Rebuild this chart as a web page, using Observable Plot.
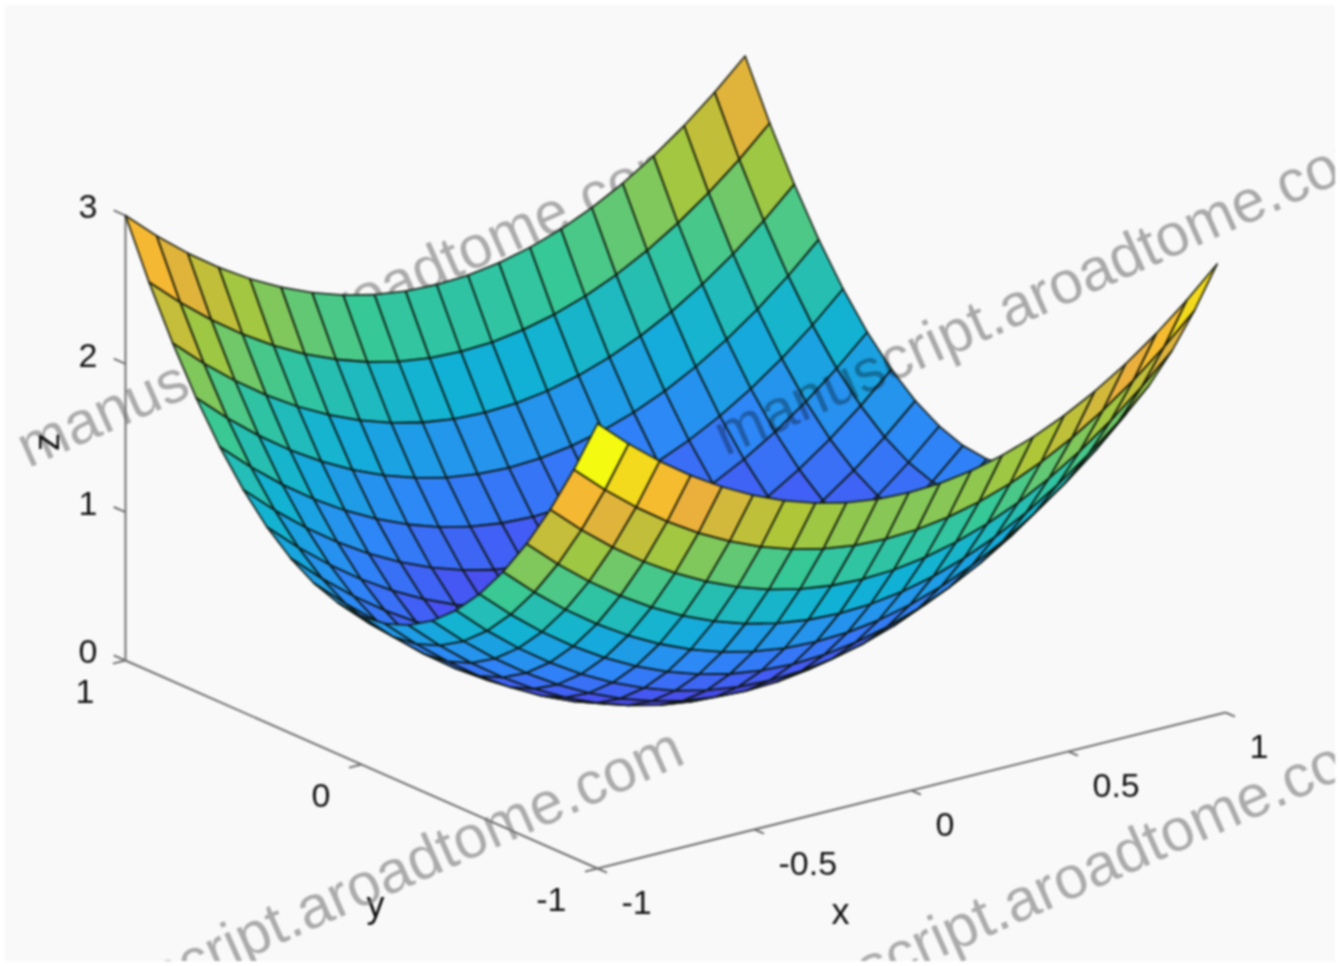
<!DOCTYPE html>
<html>
<head>
<meta charset="utf-8">
<script src="https://cdn.jsdelivr.net/npm/d3@7"></script>
<script src="https://cdn.jsdelivr.net/npm/@observablehq/plot@0.6"></script>
<style>html,body{margin:0;padding:0;background:#fff}svg{display:block}</style>
</head>
<body>
<div id="chart"></div>
<script>
// grid positions
const xGrid = [-1,-0.9,-0.8,-0.7,-0.6,-0.5,-0.4,-0.3,-0.2,-0.1,0,0.1,0.2,0.3,0.4,0.5,0.6,0.7,0.8,0.9,1];
const yGrid = [-1,-0.9,-0.8,-0.7,-0.6,-0.5,-0.4,-0.3,-0.2,-0.1,0,0.1,0.2,0.3,0.4,0.5,0.6,0.7,0.8,0.9,1];

// surface heights, one row per y magnitude
const zY10 = [3,2.81,2.64,2.49,2.36,2.25,2.16,2.09,2.04,2.01,2,2.01,2.04,2.09,2.16,2.25,2.36,2.49,2.64,2.81,3];
const zY09 = [2.62,2.43,2.26,2.11,1.98,1.87,1.78,1.71,1.66,1.63,1.62,1.63,1.66,1.71,1.78,1.87,1.98,2.11,2.26,2.43,2.62];
const zY08 = [2.28,2.09,1.92,1.77,1.64,1.53,1.44,1.37,1.32,1.29,1.28,1.29,1.32,1.37,1.44,1.53,1.64,1.77,1.92,2.09,2.28];
const zY07 = [1.98,1.79,1.62,1.47,1.34,1.23,1.14,1.07,1.02,0.99,0.98,0.99,1.02,1.07,1.14,1.23,1.34,1.47,1.62,1.79,1.98];
const zY06 = [1.72,1.53,1.36,1.21,1.08,0.97,0.88,0.81,0.76,0.73,0.72,0.73,0.76,0.81,0.88,0.97,1.08,1.21,1.36,1.53,1.72];
const zY05 = [1.5,1.31,1.14,0.99,0.86,0.75,0.66,0.59,0.54,0.51,0.5,0.51,0.54,0.59,0.66,0.75,0.86,0.99,1.14,1.31,1.5];
const zY04 = [1.32,1.13,0.96,0.81,0.68,0.57,0.48,0.41,0.36,0.33,0.32,0.33,0.36,0.41,0.48,0.57,0.68,0.81,0.96,1.13,1.32];
const zY03 = [1.18,0.99,0.82,0.67,0.54,0.43,0.34,0.27,0.22,0.19,0.18,0.19,0.22,0.27,0.34,0.43,0.54,0.67,0.82,0.99,1.18];
const zY02 = [1.08,0.89,0.72,0.57,0.44,0.33,0.24,0.17,0.12,0.09,0.08,0.09,0.12,0.17,0.24,0.33,0.44,0.57,0.72,0.89,1.08];
const zY01 = [1.02,0.83,0.66,0.51,0.38,0.27,0.18,0.11,0.06,0.03,0.02,0.03,0.06,0.11,0.18,0.27,0.38,0.51,0.66,0.83,1.02];
const zY00 = [1,0.81,0.64,0.49,0.36,0.25,0.16,0.09,0.04,0.01,0,0.01,0.04,0.09,0.16,0.25,0.36,0.49,0.64,0.81,1];
const zRows = [zY10,zY09,zY08,zY07,zY06,zY05,zY04,zY03,zY02,zY01,zY00,zY01,zY02,zY03,zY04,zY05,zY06,zY07,zY08,zY09,zY10];

// tick values
const xTicks = [-1,-0.5,0,0.5,1];
const yTicks = [-1,0,1];
const zTicks = [0,1,2,3];

// colour map
const parulaDomain = [0,0.43,0.86,1.29,1.71,2.14,2.55,2.78,3];
const parulaRange = ["#3e26a8","#4852f4","#2d87f7","#11b1d6","#37c897","#abc739","#f6ac3c","#f3d51e","#f4fb10"];

const watermark = "manuscript.aroadtome.com";

// view of the (x, y, z) box, with a slight perspective pull at the far x side
const viewU = (x, y, z) => 314 * x - 236 * y - 1.4 * (x + 1) * z;
const viewV = (x, y, z) => 78 * x + 104 * y + 148.3 * z + 0.6 * (x + 1) * z;

// back-to-front quads; every facet takes the colour of its lowest-index vertex
const facets = [];
for (let j = yGrid.length - 2; j >= 0; --j) {
  for (let i = xGrid.length - 2; i >= 0; --i) {
    const colour = zRows[j][i];
    for (const [a, b] of [[i, j], [i + 1, j], [i + 1, j + 1], [i, j + 1]]) {
      facets.push({
        cell: `${i}-${j}`,
        colour,
        u: viewU(xGrid[a], yGrid[b], zRows[b][a]),
        v: viewV(xGrid[a], yGrid[b], zRows[b][a])
      });
    }
  }
}

const tick = (x1, y1, z1, x2, y2, z2) => ({
  u1: viewU(x1, y1, z1), v1: viewV(x1, y1, z1),
  u2: viewU(x2, y2, z2), v2: viewV(x2, y2, z2)
});
const axisLines = [tick(-1, -1, 0, 1, -1, 0), tick(-1, -1, 0, -1, 1, 0), tick(-1, 1, 0, -1, 1, 3)];
const tickLines = [
  ...xTicks.map(t => tick(t, -1, 0, t, -1.04, 0)),
  ...yTicks.map(t => tick(-1, t, 0, -1.04, t, 0)),
  ...zTicks.map(t => tick(-1, 1, t, -1, 1.05, t))
];

const font = {fontFamily: "'Liberation Sans', Arial, sans-serif", fill: "#111"};
const wm = (dx, dy, extra) => Plot.text([watermark], {
  frameAnchor: "top-left", dx, dy, rotate: -24, textAnchor: "end", lineAnchor: "bottom",
  fontFamily: "'Liberation Sans', Arial, sans-serif", fontSize: 60, fill: "#777", fillOpacity: 0.6,
  ...extra
});

const chart = Plot.plot({
  width: 1340,
  height: 966,
  margin: 0,
  x: {domain: [-675, 665], range: [0, 1340], axis: null},
  y: {domain: [686, -280], range: [0, 966], axis: null},
  color: {type: "linear", domain: parulaDomain, range: parulaRange},
  style: {background: "#f9f9f9", outline: "5px solid #fff", outlineOffset: "-5px", filter: "blur(1.1px)"},
  marks: [
    wm(692, 172),
    Plot.link(axisLines, {x1: "u1", y1: "v1", x2: "u2", y2: "v2", stroke: "#707070", strokeWidth: 2}),
    Plot.link(tickLines, {x1: "u1", y1: "v1", x2: "u2", y2: "v2", stroke: "#707070", strokeWidth: 2}),
    Plot.line(facets, {x: "u", y: "v", z: "cell", fill: "colour", stroke: "#0c1208", strokeWidth: 1.8, strokeOpacity: 0.85, curve: "linear-closed"}),
    Plot.text(xTicks, {x: t => viewU(t, -1, 0), y: t => viewV(t, -1, 0), text: t => String(t), dx: 24, dy: 35, textAnchor: "start", fontSize: 34, ...font}),
    Plot.text(yTicks, {x: t => viewU(-1, t, 0), y: t => viewV(-1, t, 0), text: t => String(t), dx: -31, dy: 32, textAnchor: "end", fontSize: 34, ...font}),
    Plot.text(zTicks, {x: () => viewU(-1, 1, 0), y: t => viewV(-1, 1, t), text: t => String(t), dx: -28, dy: -8, textAnchor: "end", fontSize: 34, ...font}),
    Plot.text(["x"], {x: () => viewU(0, -1, 0), y: () => viewV(0, -1, 0), dx: -71, dy: 122, fontSize: 36, ...font}),
    Plot.text(["y"], {x: () => viewU(-1, 0, 0), y: () => viewV(-1, 0, 0), dx: 14, dy: 141, fontSize: 36, ...font}),
    Plot.text(["z"], {x: () => viewU(-1, 1, 0), y: () => viewV(-1, 1, 1.5), dx: -78, dy: 4, rotate: -90, fontSize: 36, ...font}),
    wm(1389, 160, {mixBlendMode: "multiply"}),
    wm(687, 762),
    wm(1394, 755)
  ]
});
document.getElementById("chart").append(chart);
</script>
</body>
</html>
